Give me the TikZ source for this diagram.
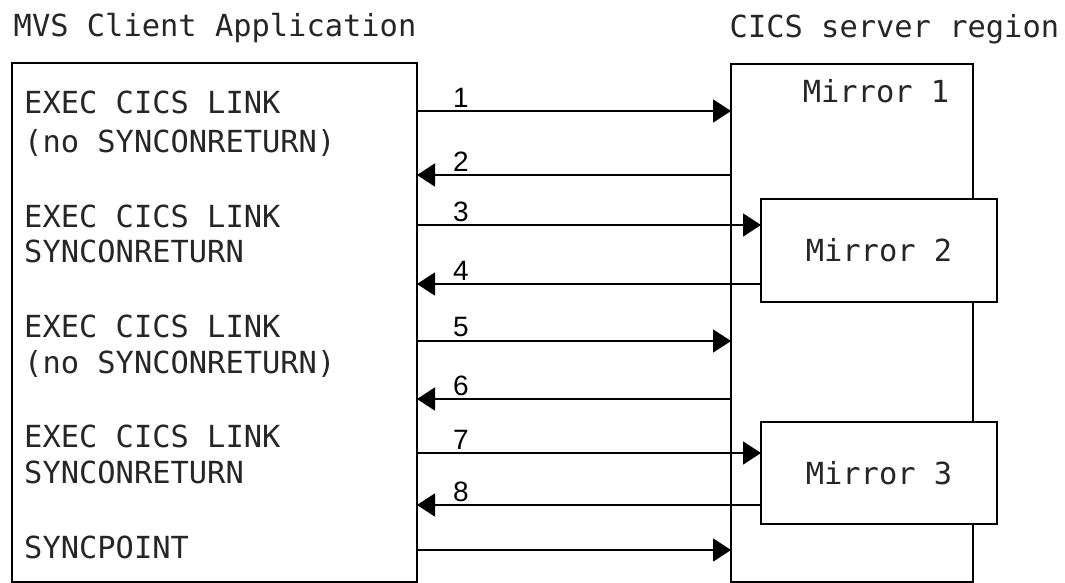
\documentclass[tikz,border=0pt]{standalone}
\usepackage{fontspec}
\newfontfamily\monofont{DejaVu Sans Mono}
\newfontfamily\labfont{Liberation Sans}
\usetikzlibrary{arrows.meta}
\begin{document}
\begin{tikzpicture}[x=1pt,y=-1pt,
  box/.style={draw,line width=1.8pt,inner sep=0pt,outer sep=0pt},
  txt/.style={font=\monofont\fontsize{30.4}{36}\selectfont,text=black!85,inner sep=0pt,anchor=base west},
  lab/.style={font=\labfont\fontsize{28}{30}\selectfont,inner sep=0pt,anchor=base},
  arr/.style={line width=1.8pt,-{Triangle[length=18pt,width=23pt]}}]
\useasboundingbox (0,0) rectangle (1065,582);
% titles
\node[txt] (t1) at (13.5,36) {MVS Client Application};
\node[txt] (t2) at (729.5,37) {CICS server region};
% boxes
\node[box,minimum width=405pt,minimum height=519pt,anchor=north west] (client) at (12,63) {};
\node[box,minimum width=242pt,minimum height=518pt,anchor=north west] (server) at (731,64) {};
\node[box,fill=white,minimum width=236pt,minimum height=103pt,anchor=north west,
      font=\monofont\fontsize{30.4}{36}\selectfont,text=black!85] (m2) at (761,199) {Mirror 2};
\node[box,fill=white,minimum width=236pt,minimum height=102pt,anchor=north west,
      font=\monofont\fontsize{30.4}{36}\selectfont,text=black!85] (m3) at (761,422) {Mirror 3};
\node[txt,anchor=base] (m1) at (876,102) {Mirror 1};
% client texts
\node[txt] (c1a) at (24,113.5) {EXEC CICS LINK};
\node[txt] (c1b) at (24,152.5) {(no SYNCONRETURN)};
\node[txt] (c2a) at (24,227) {EXEC CICS LINK};
\node[txt] (c2b) at (24,262) {SYNCONRETURN};
\node[txt] (c3a) at (24,337) {EXEC CICS LINK};
\node[txt] (c3b) at (24,373) {(no SYNCONRETURN)};
\node[txt] (c4a) at (24,447) {EXEC CICS LINK};
\node[txt] (c4b) at (24,483) {SYNCONRETURN};
\node[txt] (c5) at (24,558) {SYNCPOINT};
% arrows
\draw[arr] (client.east |- 0,111) -- (server.west |- 0,111);
\draw[arr] (server.west |- 0,175) -- (client.east |- 0,175);
\draw[arr] (client.east |- 0,225) -- (m2.west |- 0,225);
\draw[arr] (m2.west |- 0,284) -- (client.east |- 0,284);
\draw[arr] (client.east |- 0,341) -- (server.west |- 0,341);
\draw[arr] (server.west |- 0,399) -- (client.east |- 0,399);
\draw[arr] (client.east |- 0,453) -- (m3.west |- 0,453);
\draw[arr] (m3.west |- 0,505) -- (client.east |- 0,505);
\draw[arr] (client.east |- 0,550) -- (server.west |- 0,550);
% labels
\node[lab] (l1) at (461,107) {1};
\node[lab] (l2) at (461,171) {2};
\node[lab] (l3) at (461,221) {3};
\node[lab] (l4) at (461,280) {4};
\node[lab] (l5) at (461,336) {5};
\node[lab] (l6) at (461,395) {6};
\node[lab] (l7) at (461,449) {7};
\node[lab] (l8) at (461,501) {8};
\end{tikzpicture}
\end{document}
